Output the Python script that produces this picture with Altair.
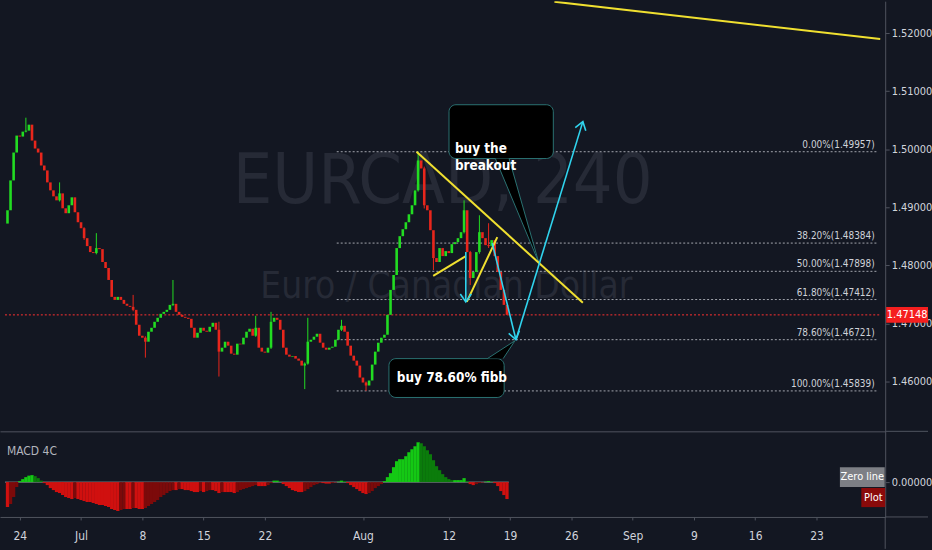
import math
import altair as alt
import numpy as np
import pandas as pd

# ---------------------------------------------------------------- palette
BG = "#131722"
LINE_GREY = "#50545f"
TEXT_GREY = "#d1d4dc"
GREEN = "#22dc22"
RED = "#e8261c"
YELLOW = "#f0e030"
CYAN = "#30d4ee"
TEAL = "#2a7272"
NARROW = "'DejaVu Sans Condensed', 'Liberation Sans', sans-serif"

# ---------------------------------------------------------------- frame
# x is a session index: trading days counted from Mon 24 Jun 2019 (weekends removed)
X_DOMAIN = [-1.205, 70.2]
PRICE_DOMAIN = [1.45143, 1.52549]
MACD_DOMAIN = [-0.0035, 0.0051]
W, H_PRICE, H_MACD = 889, 432, 86

tick_days = [0, 5, 10, 15, 20, 28, 35, 40, 45, 50, 55, 60, 65]
tick_labels = ["24", "Jul", "8", "15", "22", "Aug", "12", "19", "26", "Sep", "9", "16", "23"]
price_ticks = [1.46, 1.47, 1.48, 1.49, 1.50, 1.51, 1.52]

# ---------------------------------------------------------------- EURCAD candles
bar_start = -1.0
bar_step = 0.25
first_open = 1.48720
closes = [
    1.48949, 1.49463, 1.49943, 1.50235, 1.50218, 1.50303, 1.50320, 1.50423, 1.50149, 1.50012,
    1.49943, 1.49720, 1.49635, 1.49429, 1.49292, 1.49189, 1.49120, 1.49240, 1.48983, 1.48898,
    1.49035, 1.49172, 1.48915, 1.48743, 1.48640, 1.48469, 1.48332, 1.48229, 1.48212, 1.48298,
    1.48280, 1.48058, 1.47955, 1.47749, 1.47458, 1.47406, 1.47458, 1.47406, 1.47338, 1.47303,
    1.47286, 1.47235, 1.46978, 1.46789, 1.46755, 1.46686, 1.46858, 1.46926, 1.47029, 1.47098,
    1.47166, 1.47200, 1.47235, 1.47320, 1.47338, 1.47200, 1.47149, 1.47115, 1.47098, 1.47080,
    1.46926, 1.46755, 1.46840, 1.46926, 1.46875, 1.46858, 1.46943, 1.47012, 1.46892, 1.46515,
    1.46583, 1.46686, 1.46618, 1.46480, 1.46463, 1.46652, 1.46640, 1.46755, 1.46858, 1.46909,
    1.46789, 1.46926, 1.46583, 1.46515, 1.46498, 1.46583, 1.47029, 1.47098, 1.47063, 1.46892,
    1.46583, 1.46463, 1.46429, 1.46440, 1.46395, 1.46360, 1.46275, 1.46309, 1.46686, 1.46720,
    1.46772, 1.46823, 1.46669, 1.46583, 1.46549, 1.46583, 1.46600, 1.46720, 1.46892, 1.46960,
    1.46858, 1.46618, 1.46446, 1.46360, 1.46275, 1.46069, 1.45983, 1.45932, 1.46018, 1.46292,
    1.46515, 1.46669, 1.46755, 1.46806, 1.47149, 1.47578, 1.47835, 1.48298, 1.48503, 1.48623,
    1.48743, 1.48880, 1.49035, 1.49292, 1.49806, 1.49669, 1.49035, 1.48949, 1.48606, 1.48126,
    1.48058, 1.48298, 1.48160, 1.48246, 1.48212, 1.48366, 1.48400, 1.48469, 1.48572, 1.48949,
    1.48229, 1.47783, 1.47886, 1.48229, 1.48572, 1.48469, 1.48349, 1.48332, 1.48435, 1.48160,
    1.47886, 1.47578, 1.47320, 1.47148,
]
# candles whose wicks reach beyond the body
wick_idx = [6, 17, 25, 29, 41, 45, 54, 69, 81, 86, 97, 98, 109, 117, 134, 136, 139, 149, 151, 154, 157]
wick_high = [1.50543, 1.49429, 1.48657, 1.48555, 1.47492, 1.46780, 1.47749, 1.47030, 1.47132, 1.47200,
             1.46330, 1.47098, 1.47063, 1.46000, 1.49957, 1.49700, 1.48150, 1.49120, 1.48250, 1.48863, 1.48726]
wick_low = [1.50290, 1.49100, 1.48440, 1.48190, 1.47210, 1.46412, 1.47300, 1.46086, 1.46770, 1.46560,
            1.45870, 1.46290, 1.46870, 1.45839, 1.49270, 1.48980, 1.47920, 1.48550, 1.47663, 1.48200, 1.48300]

last_price = 1.47148

# ---------------------------------------------------------------- Fibonacci retracement
fib_pcts = ["0.00", "38.20", "50.00", "61.80", "78.60", "100.00"]
fib_prices = [1.49957, 1.48384, 1.47898, 1.47412, 1.46721, 1.45839]
fib_start = 25.86

# ---------------------------------------------------------------- drawings (session index, price)
yellow_segments = [
    (32.37, 1.49957, 45.94, 1.47355),
    (33.73, 1.47818, 36.39, 1.48160),
    (36.47, 1.47372, 38.96, 1.48486),
    (43.62, 1.52540, 70.20, 1.51897),
]
cyan_segments = [
    (36.39, 1.48229, 36.39, 1.47372),
    (38.55, 1.48383, 40.48, 1.46721),
    (40.48, 1.46721, 45.94, 1.50475),
]
callout_texts = [
    (35.50, 1.50006, "buy the"),
    (35.50, 1.49715, "breakout"),
    (30.76, 1.46069, "buy 78.60% fibb"),
]
callout_boxes = [  # d1, d2, p_top, p_bottom
    (35.02, 43.53, 1.50766, 1.49840),
    (30.12, 39.52, 1.46395, 1.45726),
]
callout_tails = [  # base A, base B, tip C
    ((38.80, 1.49840), (39.92, 1.49840), (42.33, 1.48058)),
    ((38.15, 1.46395), (39.44, 1.46395), (40.40, 1.46703)),
]

# ---------------------------------------------------------------- MACD 4C histogram (x 1e-4)
macd_hist_e4 = [
    -25, -22, -15, -5, 1, 3, 5, 6.5, 7, 6, 4, 1.5,
    -1, -3, -6, -8, -10, -11, -13, -15, -16, -17, -16, -17,
    -18, -19, -20, -20, -21, -22, -23, -23, -24, -25, -27, -28,
    -29, -28, -27, -27, -27, -26, -26, -27, -27, -26, -24, -22,
    -20, -18, -15, -13, -11, -9, -8, -8, -7, -7, -8, -8,
    -9, -10, -10, -9, -10, -9, -8, -8, -9, -11, -10, -10,
    -10, -10, -11, -10, -8, -7, -6, -5, -4, -3, -4, -4,
    -4, -3, -1, 1.5, 1.5, 0.5, -2, -4, -6, -8, -9, -10,
    -10, -9, -7, -5, -3, -2, -1, -1, -1.5, -1.5, -1, -0.5,
    0.5, 1.5, 1, -1, -3, -5, -7, -9, -11, -12, -11, -9,
    -6, -4, -2, 1, 5, 9, 15, 21, 23, 23, 26, 30,
    33, 36, 40, 39, 36, 32, 28, 22, 16, 12, 8, 5,
    3, 2, 2, 2, 2, 4, 1, -2, -3, -2, -1, -0.5,
    0.5, 1, 0.5, -1, -4, -9, -13, -17,
]

# ================================================================ tables
n = len(closes)
days = [bar_start + i * bar_step for i in range(n)]
opens = [first_open] + closes[:-1]
candles = pd.DataFrame({"d": days, "o": opens, "c": closes})
candles["col"] = np.where(candles["c"] >= candles["o"], GREEN, RED)

wicks = pd.DataFrame({
    "d": [days[i] for i in wick_idx],
    "hi": wick_high,
    "lo": wick_low,
    "col": [candles["col"][i] for i in wick_idx],
})

fib = pd.DataFrame({
    "p": fib_prices,
    "d1": fib_start,
    "d2": X_DOMAIN[1] - 0.2,
    "dl": X_DOMAIN[1] - 0.45,
    "lab": [f"{pc}%({p:.5f})" for pc, p in zip(fib_pcts, fib_prices)],
})


def seg_frame(segs):
    return pd.DataFrame(segs, columns=["d1", "p1", "d2", "p2"])


yellow = seg_frame(yellow_segments)
cyan = seg_frame(cyan_segments)

# arrow heads at the end of each cyan segment, rotated along the drawn direction
ppd = W / (X_DOMAIN[1] - X_DOMAIN[0])
ppp = H_PRICE / (PRICE_DOMAIN[1] - PRICE_DOMAIN[0])
heads = []
for d1, p1, d2, p2 in cyan_segments:
    dx = (d2 - d1) * ppd
    dy = -(p2 - p1) * ppp
    ang = math.degrees(math.atan2(-dx, dy)) % 360
    heads.append({"d": d2, "p": p2, "a": ang})
heads = pd.DataFrame(heads)

boxes = pd.DataFrame(callout_boxes, columns=["d1", "d2", "pt", "pb"])

tail_rows, tail_edges = [], []
for k, (a, b, c) in enumerate(callout_tails):
    t = (b[0] - a[0]) / (c[0] - a[0])
    mid = a[1] + t * (c[1] - a[1])
    tail_rows += [
        {"k": k, "d": a[0], "p": a[1], "p2": a[1]},
        {"k": k, "d": b[0], "p": b[1], "p2": mid},
        {"k": k, "d": c[0], "p": c[1], "p2": c[1]},
    ]
    tail_edges += [(a[0], a[1], c[0], c[1]), (b[0], b[1], c[0], c[1])]
tails = pd.DataFrame(tail_rows)
tail_lines = seg_frame(tail_edges)

texts = pd.DataFrame(callout_texts, columns=["d", "p", "t"])

macd_vals = [v * 1e-4 for v in macd_hist_e4]
mcol = []
for i, v in enumerate(macd_vals):
    prev = macd_vals[i - 1] if i else v
    if v >= 0:
        mcol.append("#14c814" if v >= prev else "#0b7c0b")
    else:
        mcol.append("#d0100f" if v <= prev else "#7c0a0a")
macd = pd.DataFrame({"d": days, "v": macd_vals, "col": mcol})

# ================================================================ scales / axes
xscale = alt.Scale(domain=X_DOMAIN, nice=False, zero=False)
pscale = alt.Scale(domain=PRICE_DOMAIN, nice=False, zero=False)
mscale = alt.Scale(domain=MACD_DOMAIN, nice=False, zero=False)

x_axis_top = alt.Axis(labels=False, ticks=False, domain=True, grid=False, title=None,
                      domainColor=LINE_GREY)
p_axis = alt.Axis(orient="right", values=price_ticks, format=".5f", title=None, grid=False,
                  tickSize=4, labelPadding=2, domainColor=LINE_GREY, tickColor=LINE_GREY,
                  labelColor=TEXT_GREY, labelFontSize=11, labelFont=NARROW)
label_expr = "".join(f"datum.value == {d} ? '{l}' : " for d, l in zip(tick_days, tick_labels)) + "''"
x_axis_bot = alt.Axis(values=tick_days, labelExpr=label_expr, title=None, grid=False,
                      tickSize=3, labelPadding=11, domainColor=LINE_GREY, tickColor=LINE_GREY,
                      labelColor=TEXT_GREY, labelFontSize=12, labelFont=NARROW,
                      labelFlush=False, labelOverlap=False)
m_axis = alt.Axis(orient="right", values=[0], format=".5f", title=None, grid=False,
                  tickSize=4, labelPadding=2, domainColor=LINE_GREY, tickColor=LINE_GREY,
                  labelColor=TEXT_GREY, labelFontSize=11, labelFont=NARROW)


def px(f):
    return alt.X(f"{f}:Q", scale=xscale, axis=x_axis_top)


def pxd(v):
    return alt.X(datum=v, scale=xscale, axis=x_axis_top)


def py(f):
    return alt.Y(f"{f}:Q", scale=pscale, axis=p_axis)


def pyd(v):
    return alt.Y(datum=v, scale=pscale, axis=p_axis)


def mx(f):
    return alt.X(f"{f}:Q", scale=xscale, axis=x_axis_bot)


def mxd(v):
    return alt.X(datum=v, scale=xscale, axis=x_axis_bot)


def my(f):
    return alt.Y(f"{f}:Q", scale=mscale, axis=m_axis)


# ================================================================ price panel
wm_x = 34.5
watermark_big = alt.Chart(pd.DataFrame({"t": ["EURCAD, 240"]})).mark_text(
    font=NARROW, fontSize=70, color="#262a36", align="center", baseline="middle"
).encode(x=pxd(wm_x), y=pyd(1.49429), text="t:N")
watermark_small = alt.Chart(pd.DataFrame({"t": ["Euro / Canadian Dollar"]})).mark_text(
    font=NARROW, fontSize=37, color="#262a36", align="center", baseline="middle"
).encode(x=pxd(wm_x + 0.3), y=pyd(1.47629), text="t:N")

fib_lines = alt.Chart(fib).mark_rule(color="#a3a6ae", strokeWidth=1, strokeDash=[2, 2]).encode(
    x=px("d1"), x2="d2:Q", y=py("p"))
fib_labels = alt.Chart(fib).mark_text(
    font=NARROW, fontSize=10, color="#cfd2d9", align="right", baseline="middle", dy=-7
).encode(x=px("dl"), y=py("p"), text="lab:N")

price_line = alt.Chart(pd.DataFrame({"p": [last_price]})).mark_rule(
    color="#ff3030", strokeWidth=1, strokeDash=[2, 2]
).encode(x=pxd(X_DOMAIN[0]), x2=alt.X2(datum=X_DOMAIN[1]), y=py("p"))

wick_layer = alt.Chart(wicks).mark_rule(strokeWidth=1).encode(
    x=px("d"), y=py("lo"), y2="hi:Q", color=alt.Color("col:N", scale=None))
body_layer = alt.Chart(candles).mark_bar(size=2.6).encode(
    x=px("d"), y=py("o"), y2="c:Q", color=alt.Color("col:N", scale=None))

box_layer = alt.Chart(boxes).mark_rect(
    cornerRadius=7, fill="#000000", stroke=TEAL, strokeWidth=1
).encode(x=px("d1"), x2="d2:Q", y=py("pt"), y2="pb:Q")
tail_layer = alt.Chart(tails).mark_area(color="#000000", opacity=1).encode(
    x=px("d"), y=py("p"), y2="p2:Q", detail="k:N")
tail_edge_layer = alt.Chart(tail_lines).mark_rule(color=TEAL, strokeWidth=1).encode(
    x=px("d1"), x2="d2:Q", y=py("p1"), y2="p2:Q")
text_layer = alt.Chart(texts).mark_text(
    font=NARROW, fontSize=13.5, fontWeight="bold", color="#ffffff", align="left", baseline="middle"
).encode(x=px("d"), y=py("p"), text="t:N")

yellow_layer = alt.Chart(yellow).mark_rule(color=YELLOW, strokeWidth=2, clip=True).encode(
    x=px("d1"), x2="d2:Q", y=py("p1"), y2="p2:Q")
cyan_layer = alt.Chart(cyan).mark_rule(color=CYAN, strokeWidth=1.6).encode(
    x=px("d1"), x2="d2:Q", y=py("p1"), y2="p2:Q")
head_layer = alt.Chart(heads).mark_point(
    shape="M-0.7,-1L0,0L0.7,-1", filled=False, size=250, color=CYAN, strokeWidth=1.6, opacity=1
).encode(x=px("d"), y=py("p"), angle=alt.Angle("a:Q", scale=None))

price_box = alt.Chart(pd.DataFrame({"p": [last_price]})).mark_point(
    shape="M-1,-0.38L1,-0.38L1,0.38L-1,0.38Z", filled=True, size=1764, color="#f51f1f",
    opacity=1, strokeWidth=0
).encode(x=alt.value(W + 22), y=py("p"))
price_text = alt.Chart(pd.DataFrame({"t": [f"{last_price:.5f}"], "p": [last_price]})).mark_text(
    font=NARROW, fontSize=11, color="#ffffff", align="center", baseline="middle"
).encode(x=alt.value(W + 22), y=py("p"), text="t:N")
right_sep_top = alt.Chart(pd.DataFrame({"k": [0]})).mark_rule(color=LINE_GREY).encode(
    x=alt.value(W), x2=alt.value(W + 43), y=alt.value(H_PRICE))

price_panel = alt.layer(
    watermark_big, watermark_small, fib_lines, fib_labels, price_line,
    wick_layer, body_layer, box_layer, tail_layer, tail_edge_layer, text_layer,
    yellow_layer, cyan_layer, head_layer, price_box, price_text, right_sep_top,
).properties(width=W, height=H_PRICE)

# ================================================================ MACD panel
zero_line = alt.Chart(pd.DataFrame({"v": [0.0]})).mark_rule(color="#8a8d96", strokeWidth=1).encode(
    x=mxd(X_DOMAIN[0]), x2=alt.X2(datum=days[-1] + 0.15), y=my("v"))
hist = alt.Chart(macd).mark_bar(size=3.3).encode(
    x=mx("d"), y=my("v"), y2=alt.Y2(datum=0), color=alt.Color("col:N", scale=None))
macd_title = alt.Chart(pd.DataFrame({"t": ["MACD 4C"]})).mark_text(
    font=NARROW, fontSize=12, color="#b2b5be", align="left", baseline="middle"
).encode(x=alt.value(7), y=alt.value(20), text="t:N")

zero_tag = alt.Chart(pd.DataFrame({"v": [0.0]})).mark_point(
    shape="M-1,-0.44L1,-0.44L1,0.44L-1,0.44Z", filled=True, size=2025, color="#7d7f85",
    opacity=1, strokeWidth=0, yOffset=-5
).encode(x=alt.value(W - 23), y=my("v"))
zero_tag_text = alt.Chart(pd.DataFrame({"v": [0.0], "t": ["Zero line"]})).mark_text(
    font=NARROW, fontSize=11, color="#ffffff", align="center", baseline="middle", yOffset=-5
).encode(x=alt.value(W - 23), y=my("v"), text="t:N")
plot_tag = alt.Chart(pd.DataFrame({"v": [0.0]})).mark_point(
    shape="M-1,-0.8L1,-0.8L1,0.8L-1,0.8Z", filled=True, size=576, color="#8a0a0a",
    opacity=1, strokeWidth=0, yOffset=15.5
).encode(x=alt.value(W - 12), y=my("v"))
plot_tag_text = alt.Chart(pd.DataFrame({"v": [0.0], "t": ["Plot"]})).mark_text(
    font=NARROW, fontSize=11, color="#ffffff", align="center", baseline="middle", yOffset=15.5
).encode(x=alt.value(W - 12), y=my("v"), text="t:N")
right_sep_bot = alt.Chart(pd.DataFrame({"k": [0]})).mark_rule(color=LINE_GREY).encode(
    x=alt.value(W), x2=alt.value(W + 43), y=alt.value(H_MACD))
axis_tail = alt.Chart(pd.DataFrame({"k": [0]})).mark_rule(color=LINE_GREY).encode(
    x=alt.value(W), y=alt.value(H_MACD), y2=alt.value(H_MACD + 32))

macd_panel = alt.layer(
    zero_line, hist, macd_title, zero_tag, zero_tag_text, plot_tag, plot_tag_text,
    right_sep_bot, axis_tail,
).properties(width=W, height=H_MACD)

chart = alt.vconcat(price_panel, macd_panel, spacing=0, bounds="flush").properties(
    background=BG, padding=0
).configure_view(stroke=None)

chart.save("out.html", embed_options={"renderer": "svg", "actions": False})
